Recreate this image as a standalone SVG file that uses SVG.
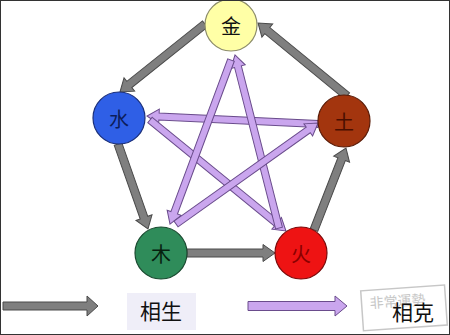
<svg xmlns="http://www.w3.org/2000/svg" width="450" height="335" viewBox="0 0 450 335">
<style>
.g{fill:#7f7f7f;stroke:#4a4a4a;stroke-width:1;stroke-linejoin:miter}
.p{fill:#caa6ee;stroke:#6a4c8c;stroke-width:1}
.n{stroke-width:1.2}
.t{font-family:"Noto Sans CJK SC","Noto Sans CJK JP",sans-serif;font-size:20px;text-anchor:middle;dominant-baseline:central}
</style>
<rect x="0" y="0" width="450" height="335" fill="#ffffff"/>
<g id="connectors">
  <!-- 相克 purple -->
  <path class="p" transform="translate(318,124) rotate(-177.32)" d="M0,-3.5 L159.2,-3.5 L159.2,-7.5 L171.2,0 L159.2,7.5 L159.2,3.5 L0,3.5 Z"/>
  <path class="p" transform="translate(150,120) rotate(39.22)" d="M0,-3.5 L163.5,-3.5 L163.5,-7.5 L175.5,0 L163.5,7.5 L163.5,3.5 L0,3.5 Z"/>
  <path class="p" transform="translate(279,228) rotate(-104.27)" d="M0,-3.5 L166.5,-3.5 L166.5,-7.5 L178.5,0 L166.5,7.5 L166.5,3.5 L0,3.5 Z"/>
  <path class="p" transform="translate(231,60) rotate(110.4)" d="M0,-3.5 L163,-3.5 L163,-7.5 L175,0 L163,7.5 L163,3.5 L0,3.5 Z"/>
  <path class="p" transform="translate(176,224) rotate(-35.42)" d="M0,-3.5 L162.3,-3.5 L162.3,-7.5 L174.3,0 L162.3,7.5 L162.3,3.5 L0,3.5 Z"/>
  <!-- 相生 gray -->
  <path class="g" transform="translate(205,24) rotate(141.34)" d="M0,-4 L96.9,-4 L96.9,-8.5 L108.9,0 L96.9,8.5 L96.9,4 L0,4 Z"/>
  <path class="g" transform="translate(118,144) rotate(70.56)" d="M0,-4 L78.1,-4 L78.1,-8.5 L90.1,0 L78.1,8.5 L78.1,4 L0,4 Z"/>
  <path class="g" transform="translate(187,253)" d="M0,-4 L76,-4 L76,-8.5 L88,0 L76,8.5 L76,4 L0,4 Z"/>
  <path class="g" transform="translate(314,230) rotate(-68.68)" d="M0,-4 L76,-4 L76,-8.5 L88,0 L76,8.5 L76,4 L0,4 Z"/>
  <path class="g" transform="translate(347,96) rotate(-140.64)" d="M0,-4 L103.1,-4 L103.1,-8.5 L115.1,0 L103.1,8.5 L103.1,4 L0,4 Z"/>
</g>
<g id="jin"><circle class="n" cx="231" cy="25" r="26" fill="#ffffa6" stroke="#8c8c6a"/><text class="t" x="231" y="25" fill="#111">金</text></g>
<g id="shui"><circle class="n" cx="119" cy="118" r="26" fill="#2f5fe6" stroke="#1a2f7a"/><text class="t" x="119" y="118" fill="#0c1d5a">水</text></g>
<g id="tu"><circle class="n" cx="344" cy="121" r="26" fill="#a3350e" stroke="#5a1c08"/><text class="t" x="344" y="121" fill="#4a0e00">土</text></g>
<g id="mu"><circle class="n" cx="161" cy="253" r="26" fill="#2f8c5a" stroke="#1a4a30"/><text class="t" x="161" y="253" fill="#06200f">木</text></g>
<g id="huo"><circle class="n" cx="301" cy="253" r="26" fill="#ee1313" stroke="#7a0a0a"/><text class="t" x="301" y="253" fill="#8a0000">火</text></g>
<g id="legend">
  <path class="g" transform="translate(3,306)" d="M0,-4 L84,-4 L84,-10 L95,0 L84,10 L84,4 L0,4 Z"/>
  <rect x="127" y="293" width="69" height="37" fill="#efeef8"/>
  <text class="t" x="161" y="310" fill="#111" style="font-size:21px">相生</text>
  <path class="p" transform="translate(248,306)" d="M0,-4.5 L87,-4.5 L87,-10 L99,0 L87,10 L87,4.5 L0,4.5 Z"/>
  <g transform="rotate(-4 403 308)" opacity="0.55">
    <rect x="362" y="288" width="84" height="40" fill="none" stroke="#9a9a9a" stroke-width="1.5"/>
    <text x="398" y="300" style="font-family:'Noto Sans CJK SC',sans-serif;font-size:14px;text-anchor:middle;dominant-baseline:central" fill="#999">非常運勢</text>
  </g>
  <text class="t" x="413" y="311" fill="#111" style="font-size:21px">相克</text>
</g>
<rect x="0.5" y="0.5" width="449" height="334" fill="none" stroke="#333" stroke-width="1"/>
</svg>
